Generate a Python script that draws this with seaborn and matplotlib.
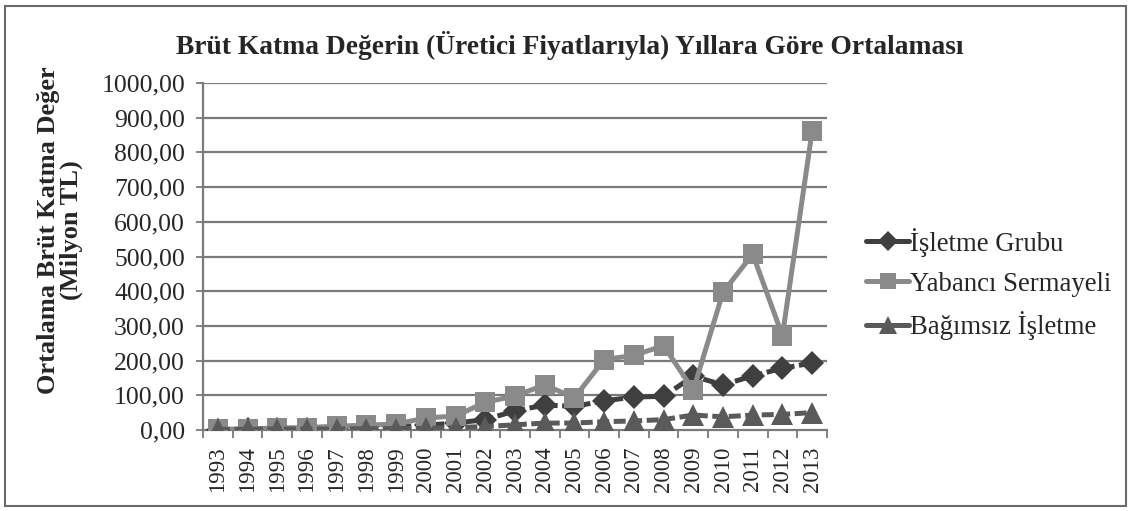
import pandas as pd
import seaborn as sns
import matplotlib.pyplot as plt
from matplotlib.patches import Rectangle
from matplotlib.ticker import MultipleLocator, FuncFormatter

# data (Milyon TL)
years = [str(y) for y in range(1993, 2014)]
isletme_grubu = [1, 2, 3, 4, 5, 7, 9, 14, 20, 30, 55, 72, 68, 84, 95, 97,
                 155, 130, 156, 178, 193]
yabanci = [2, 3, 6, 7, 11, 14, 17, 35, 40, 80, 98, 130, 93, 203, 215, 243,
           115, 397, 507, 272, 862]
bagimsiz = [2, 2, 3, 3, 3, 4, 4, 5, 7, 10, 15, 20, 20, 24, 26, 30,
            43, 38, 43, 45, 50]
series_names = ['İşletme Grubu', 'Yabancı Sermayeli', 'Bağımsız İşletme']

df = pd.DataFrame({
    'pos': list(range(len(years))) * 3,
    'value': isletme_grubu + yabanci + bagimsiz,
    'series': [s for s in series_names for _ in years],
})

sns.set_style('white')
plt.rcParams['font.family'] = ['Liberation Serif', 'DejaVu Serif']

fig = plt.figure(figsize=(11.31, 5.11), dpi=100)
ax = fig.add_axes([203 / 1131, 81 / 511, 624 / 1131, 347 / 511])

palette = {'İşletme Grubu': '#3f3f3f', 'Yabancı Sermayeli': '#8a8a8a',
           'Bağımsız İşletme': '#5a5a5a'}
markers = {'İşletme Grubu': 'D', 'Yabancı Sermayeli': 's', 'Bağımsız İşletme': '^'}
dashes = {'İşletme Grubu': (2.4, 0.9), 'Yabancı Sermayeli': None, 'Bağımsız İşletme': (2.4, 0.9)}
sizes = {'İşletme Grubu': 12.5, 'Yabancı Sermayeli': 14, 'Bağımsız İşletme': 16}

# grid first so lines sit on top
for v in range(100, 1001, 100):
    ax.axhline(v, color='#7a7a7a', lw=1.6, zorder=0)

for name in series_names:
    sub = df[df['series'] == name]
    sns.lineplot(data=sub, x='pos', y='value', ax=ax, color=palette[name],
                 marker=markers[name], markersize=sizes[name],
                 markeredgewidth=0, linewidth=3.6,
                 dashes=dashes[name] or (None, None),
                 label=name, zorder=3)

ax.set_xlim(-0.5, len(years) - 0.5)
ax.set_ylim(0, 1000)
ax.set_xlabel('')
ax.set_ylabel('')

ax.set_xticks(range(len(years)))
ax.set_xticklabels(years, rotation=90, fontsize=16.5)
ax.set_xticks([i - 0.5 for i in range(len(years) + 1)], minor=True)
ax.tick_params(axis='x', which='major', length=0, pad=12)
ax.tick_params(axis='x', which='minor', length=6, width=1.3, color='#7a7a7a',
               direction='out', bottom=True)

ax.yaxis.set_major_locator(MultipleLocator(100))
ax.yaxis.set_major_formatter(FuncFormatter(lambda v, p: f'{v:.2f}'.replace('.', ',')))
ax.tick_params(axis='y', length=5, width=1.3, color='#7a7a7a', direction='out',
               labelsize=18.5, pad=8, left=True)

for side in ['top', 'right']:
    ax.spines[side].set_visible(False)
for side in ['left', 'bottom']:
    ax.spines[side].set_color('#7a7a7a')
    ax.spines[side].set_linewidth(1.6)

leg = ax.legend(loc='center left', bbox_to_anchor=(842 / 1131, 1 - 284 / 511),
                bbox_transform=fig.transFigure, frameon=False, fontsize=19.3,
                handlelength=1.6, handletextpad=0.05, labelspacing=0.55,
                markerscale=0.85)
for line in leg.get_lines():
    line.set_linestyle('-')

fig.text(570 / 1131, 1 - 45 / 511,
         'Brüt Katma Değerin (Üretici Fiyatlarıyla) Yıllara Göre Ortalaması',
         ha='center', va='center', fontsize=19.8, fontweight='bold')
fig.text(60 / 1131, 1 - 230 / 511, 'Ortalama Brüt Katma Değer\n(Milyon TL)',
         rotation=90, ha='center', va='center', fontsize=19, fontweight='bold',
         multialignment='center', linespacing=1.0)

fig.add_artist(Rectangle((5 / 1131, 5 / 511), 1121 / 1131, 500 / 511,
                         transform=fig.transFigure, fill=False,
                         edgecolor='#6a6a6a', lw=1.5))

fig.savefig('out.png', dpi=100)
